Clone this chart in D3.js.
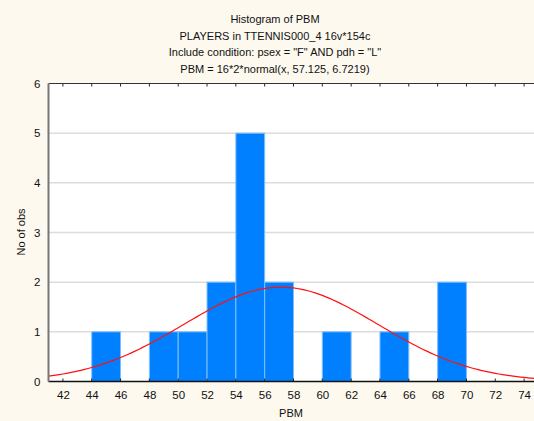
<!DOCTYPE html>
<html>
<head>
<meta charset="utf-8">
<script src="https://cdn.jsdelivr.net/npm/d3@7"></script>
<style>
  html, body { margin: 0; padding: 0; background: #fdf9ef; }
  svg { display: block; font-family: "Liberation Sans", Arial, sans-serif; }
</style>
</head>
<body>
<svg id="chart" width="534" height="421"></svg>
<script>
// histogram bins (lower edge, width 2) and counts
let binStarts = [44, 48, 50, 52, 54, 56, 60, 64, 68];
let binCounts = [1, 1, 1, 2, 5, 2, 1, 1, 2];
let xTicks = [42, 44, 46, 48, 50, 52, 54, 56, 58, 60, 62, 64, 66, 68, 70, 72, 74];
let yTicks = [0, 1, 2, 3, 4, 5, 6];
let titleLines = [
    "Histogram of PBM",
    "PLAYERS in TTENNIS000_4 16v*154c",
    'Include condition: psex = "F" AND pdh = "L"',
    "PBM = 16*2*normal(x, 57.125, 6.7219)"
];
let fitN = 16, fitBin = 2, fitMean = 57.125, fitSd = 6.7219;

let svg = d3.select("#chart");
let plotLeft = 48.5, plotRight = 538.5, plotTop = 83.5, plotBottom = 381.5;

let x = d3.scaleLinear().domain([41, 75]).range([plotLeft, plotRight]);
let y = d3.scaleLinear().domain([0, 6]).range([plotBottom, plotTop]);

svg.append('rect')
    .attr('x', plotLeft).attr('y', plotTop)
    .attr('width', plotRight - plotLeft).attr('height', plotBottom - plotTop)
    .attr('fill', 'white');

// gridlines
for (let t of yTicks.slice(1, -1)) {
    svg.append('line')
        .attr('x1', plotLeft).attr('x2', plotRight)
        .attr('y1', y(t)).attr('y2', y(t))
        .attr('stroke', '#dcdcdc')
        .attr('stroke-width', 1.5);
}

// bars
binStarts.forEach((b, i) => {
    svg.append('rect')
        .attr('x', x(b))
        .attr('y', y(binCounts[i]))
        .attr('width', x(b + 2) - x(b))
        .attr('height', y(0) - y(binCounts[i]))
        .attr('fill', '#0080ff')
        .attr('stroke', '#7fbfff')
        .attr('stroke-width', 1);
});

// fitted normal curve
let normal = (v) => fitN * fitBin * Math.exp(-0.5 * ((v - fitMean) / fitSd) ** 2) / (fitSd * Math.sqrt(2 * Math.PI));
let curvePts = d3.range(41, 75.01, 0.25).map(v => [x(v), y(normal(v))]);
svg.append('path')
    .attr('d', d3.line()(curvePts))
    .attr('fill', 'none')
    .attr('stroke', '#ff1010')
    .attr('stroke-width', 1.2);

// axes
let xAxis = d3.axisBottom(x).tickValues(xTicks).tickSize(0).tickPadding(9);
let gx = svg.append('g').attr('transform', `translate(0,${plotBottom})`).call(xAxis);
gx.select('.domain').remove();
gx.selectAll('text').attr('font-size', 11.5).attr('font-family', '"Liberation Sans", Arial, sans-serif').attr('fill', '#111');

let yAxis = d3.axisLeft(y).tickValues(yTicks).tickFormat(d3.format('d')).tickSize(0).tickPadding(8);
let gy = svg.append('g').attr('transform', `translate(${plotLeft},0)`).call(yAxis);
gy.select('.domain').remove();
gy.selectAll('text').attr('font-size', 11.5).attr('font-family', '"Liberation Sans", Arial, sans-serif').attr('fill', '#111');

// inner tick marks on bottom and top
for (let t of xTicks) {
    svg.append('line')
        .attr('x1', x(t)).attr('x2', x(t))
        .attr('y1', plotBottom).attr('y2', plotBottom - 3)
        .attr('stroke', '#222');
    svg.append('line')
        .attr('x1', x(t)).attr('x2', x(t))
        .attr('y1', plotTop).attr('y2', plotTop + 3)
        .attr('stroke', '#222');
}

// frame
svg.append('line').attr('x1', plotLeft).attr('x2', plotRight).attr('y1', plotTop).attr('y2', plotTop)
    .attr('stroke', '#333').attr('stroke-width', 1.2);
svg.append('line').attr('x1', plotLeft).attr('x2', plotRight).attr('y1', plotBottom).attr('y2', plotBottom)
    .attr('stroke', '#111').attr('stroke-width', 1.5);
svg.append('line').attr('x1', plotLeft).attr('x2', plotLeft).attr('y1', plotTop).attr('y2', plotBottom)
    .attr('stroke', '#777').attr('stroke-width', 2);

// titles
titleLines.forEach((t, i) => {
    svg.append('text')
        .attr('x', 275)
        .attr('y', 23 + i * 16.7)
        .attr('text-anchor', 'middle')
        .attr('font-size', 11)
        .attr('fill', '#111')
        .text(t);
});

svg.append('text')
    .attr('x', 291).attr('y', 417)
    .attr('text-anchor', 'middle')
    .attr('font-size', 11)
    .attr('fill', '#111')
    .text('PBM');

svg.append('text')
    .attr('transform', 'translate(25,232) rotate(-90)')
    .attr('text-anchor', 'middle')
    .attr('font-size', 11)
    .attr('fill', '#111')
    .text('No of obs');
</script>
</body>
</html>
